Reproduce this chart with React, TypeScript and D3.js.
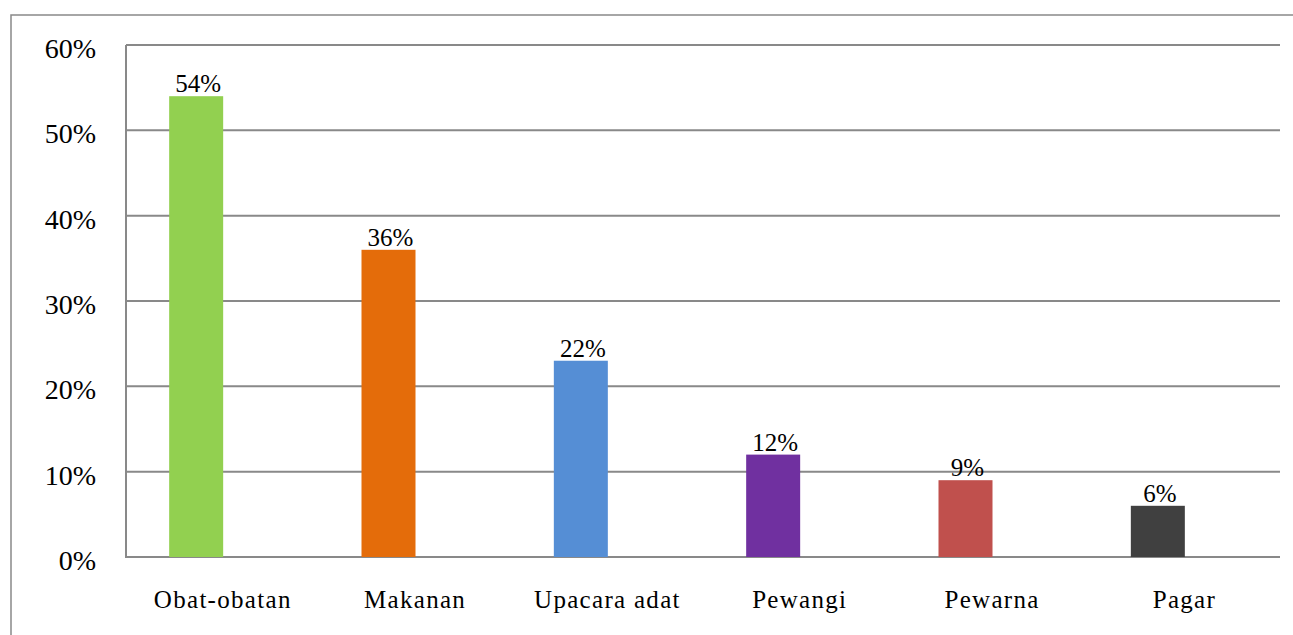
import React from "react";
import * as d3 from "d3";

const categories = ["Obat-obatan", "Makanan", "Upacara adat", "Pewangi", "Pewarna", "Pagar"];
const values = [54, 36, 23, 12, 9, 6];
const valueLabels = ["54%", "36%", "22%", "12%", "9%", "6%"];
const colors = ["#92d050", "#e46c0a", "#558ed5", "#7030a0", "#c0504d", "#404040"];
const yTicks = [0, 10, 20, 30, 40, 50, 60];

const W = 1293;
const H = 635;
const plotLeft = 126;
const plotRight = 1280;
const plotTop = 45;
const plotBottom = 557;
const barWidth = 54;
const barShift = -26;
const gridColor = "#898989";

export default function App() {
  const x = d3.scaleBand<string>().domain(categories).range([plotLeft, plotRight]).padding(0);
  const y = d3.scaleLinear().domain([0, 60]).range([plotBottom, plotTop]);
  const center = (c: string) => (x(c) as number) + x.bandwidth() / 2;

  return (
    <svg
      width={W}
      height={H}
      style={{ position: "absolute", left: 0, top: 0, background: "#fff" }}
    >
      <rect x={11} y={15} width={W + 20} height={H + 20} fill="#fff" stroke={gridColor} strokeWidth={1.5} />
      <g style={{ fontFamily: "Liberation Serif" }}>
        {yTicks.map((t) => (
          <g key={t}>
            <line x1={plotLeft} x2={plotRight} y1={y(t)} y2={y(t)} stroke={gridColor} strokeWidth={2} />
            <text x={96} y={y(t) + 13} textAnchor="end" fontSize={28} fill="#000">
              {t + "%"}
            </text>
          </g>
        ))}
        <line x1={plotLeft} x2={plotLeft} y1={plotTop} y2={plotBottom + 1} stroke={gridColor} strokeWidth={2} />
        {categories.map((c, i) => {
          const cx = center(c) + barShift;
          return (
            <g key={c}>
              <rect
                x={cx - barWidth / 2}
                y={y(values[i])}
                width={barWidth}
                height={plotBottom - y(values[i])}
                fill={colors[i]}
              />
              <text x={cx + 2} y={y(values[i]) - 4} textAnchor="middle" fontSize={25} fill="#000">
                {valueLabels[i]}
              </text>
              <text
                x={center(c) + 0.6}
                y={608}
                textAnchor="middle"
                fontSize={25}
                letterSpacing={1.3}
                fill="#000"
              >
                {c}
              </text>
            </g>
          );
        })}
      </g>
    </svg>
  );
}
